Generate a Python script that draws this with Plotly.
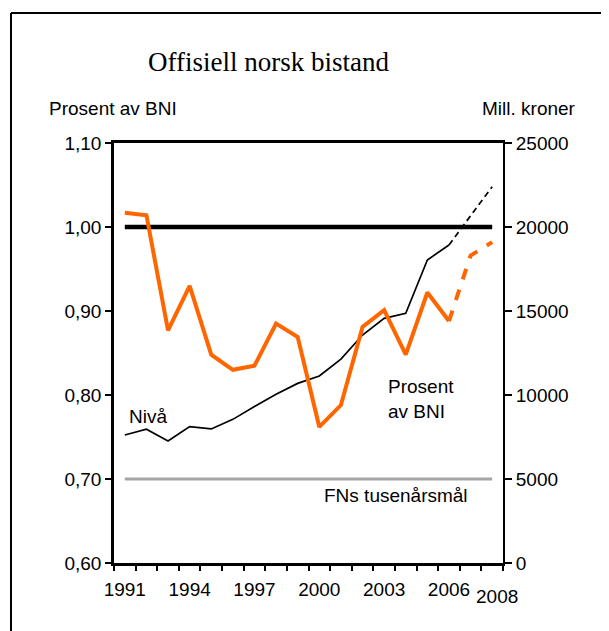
import plotly.graph_objects as go

# Official Norwegian development aid, 1991-2008
years = list(range(1991, 2007))
pct_of_gni = [1.017, 1.014, 0.877, 0.930, 0.848, 0.830, 0.835, 0.885,
              0.869, 0.762, 0.788, 0.881, 0.901, 0.848, 0.922, 0.888]
mill_nok = [7620, 7960, 7260, 8120, 7980, 8550, 9310, 10040,
            10690, 11130, 12140, 13570, 14560, 14860, 18040, 18930]

# budget / projection years (dashed)
proj_years = [2006, 2007, 2008]
proj_pct = [0.888, 0.966, 0.982]
proj_nok = [18930, 20700, 22400]

# reference levels
all_years = list(range(1991, 2009))
target_pct = [1.00] * len(all_years)
un_goal_pct = [0.70] * len(all_years)

tick_years = [1991, 1994, 1997, 2000, 2003, 2006]

ORANGE = "#FF6600"
GREY = "#A6A6A6"
FONT = "Liberation Sans"

fig = go.Figure()

fig.add_trace(go.Scatter(x=years, y=mill_nok, mode="lines", yaxis="y",
                         line=dict(color="black", width=1.7)))
fig.add_trace(go.Scatter(x=proj_years, y=proj_nok, mode="lines", yaxis="y",
                         line=dict(color="black", width=1.7, dash="6px,4px")))

fig.add_trace(go.Scatter(x=all_years, y=un_goal_pct, mode="lines", yaxis="y2",
                         line=dict(color=GREY, width=3)))
fig.add_trace(go.Scatter(x=all_years, y=target_pct, mode="lines", yaxis="y2",
                         line=dict(color="black", width=4.5)))
fig.add_trace(go.Scatter(x=years, y=pct_of_gni, mode="lines", yaxis="y2",
                         line=dict(color=ORANGE, width=4)))
fig.add_trace(go.Scatter(x=proj_years, y=proj_pct, mode="lines", yaxis="y2",
                         line=dict(color=ORANGE, width=4, dash="11px,11px")))

# the page body adds an 8px offset, so the figure is a bit smaller than the window
fig.update_layout(
    width=601,
    height=623,
    margin=dict(l=106, r=106, t=135, b=68),
    paper_bgcolor="white",
    plot_bgcolor="white",
    showlegend=False,
    separators=", ",
    font=dict(family=FONT, size=19, color="black"),
    xaxis=dict(
        range=[1990.5, 2008.5],
        tickmode="array",
        tickvals=tick_years,
        ticks="",
        ticklabelstandoff=7,
        showline=True,
        linecolor="black",
        linewidth=2.5,
        mirror=True,
        showgrid=False,
        zeroline=False,
        minor=dict(tickmode="linear", tick0=1990.5, dtick=1, ticks="outside",
                   ticklen=5, tickwidth=2, tickcolor="black", showgrid=False),
    ),
    yaxis=dict(
        side="right",
        range=[0, 25000],
        dtick=5000,
        tickformat="d",
        ticks="outside",
        ticklen=7,
        tickwidth=2,
        tickcolor="black",
        showline=True,
        linecolor="black",
        linewidth=2,
        showgrid=False,
        zeroline=False,
    ),
    yaxis2=dict(
        side="left",
        overlaying="y",
        range=[0.6, 1.1],
        dtick=0.1,
        tickformat=".2f",
        ticks="outside",
        ticklen=6,
        tickwidth=2,
        tickcolor="black",
        showline=True,
        linecolor="black",
        linewidth=2.5,
        showgrid=False,
        zeroline=False,
    ),
)

annotations = [
    dict(text="Offisiell norsk bistand", x=0.397, y=1.193, xanchor="center", yanchor="middle",
         font=dict(family="Liberation Serif", size=27)),
    dict(text="Prosent av BNI", x=-0.172, y=1.083, xanchor="left", yanchor="middle"),
    dict(text="Mill. kroner", x=1.193, y=1.083, xanchor="right", yanchor="middle"),
    dict(text="Nivå", x=0.033, y=0.35, xanchor="left", yanchor="middle"),
    dict(text="Prosent<br>av BNI", x=0.699, y=0.39, xanchor="left", yanchor="middle", align="left"),
    dict(text="FNs tusenårsmål", x=0.534, y=0.16, xanchor="left", yanchor="middle"),
]
for a in annotations:
    fig.add_annotation(xref="paper", yref="paper", showarrow=False, **a)

# lone 2008 label sitting a bit lower than the others
fig.add_annotation(text="2008", x=2008, xref="x", y=-0.079, yref="paper",
                   xanchor="center", yanchor="middle", xshift=5, showarrow=False)

# outer frame (only left and top edges fall inside the picture)
fig.add_shape(type="line", xref="paper", yref="paper", x0=-0.2648, x1=-0.2648, y0=-0.3, y1=1.3095,
              line=dict(color="black", width=2))
fig.add_shape(type="line", xref="paper", yref="paper", x0=-0.2648, x1=1.4, y0=1.3095, y1=1.3095,
              line=dict(color="black", width=2))

fig.write_html("out.html")
